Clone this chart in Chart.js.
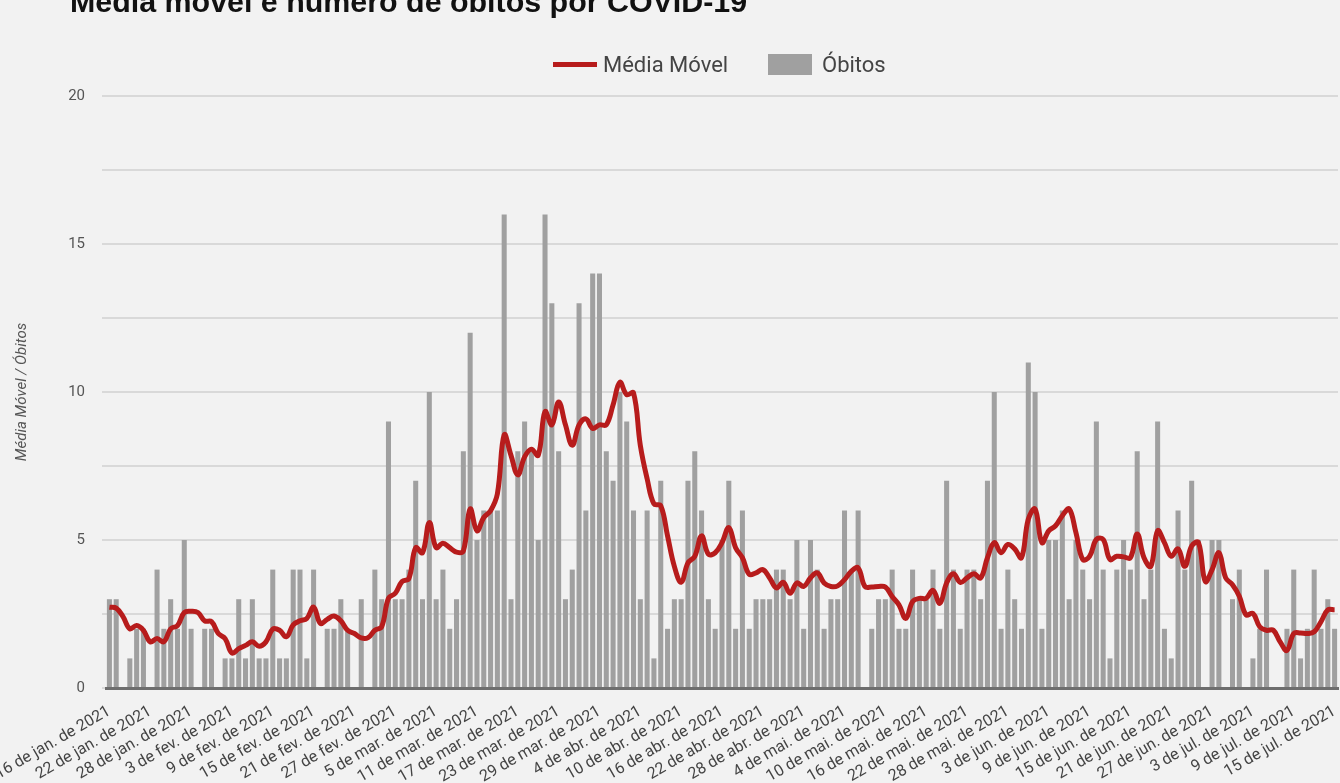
<!DOCTYPE html>
<html lang="pt-BR">
<head>
<meta charset="utf-8">
<title>Média móvel e número de óbitos por COVID-19</title>
<script src="https://cdn.jsdelivr.net/npm/chart.js@4.4.1/dist/chart.umd.min.js"></script>
<style>
  html, body { margin: 0; padding: 0; background: #f2f2f2; overflow: hidden; }
  #wrap { position: relative; width: 1340px; height: 783px; }
  #grafico { position: absolute; left: 0; top: 0; }
  #titulo {
    position: absolute; left: 70px; top: -16px; line-height: 1;
    font: bold 30.4px "Liberation Sans", Arial, sans-serif; color: #111; white-space: nowrap;
  }
  .leg-txt { position: absolute; top: 54px; font: 22px Roboto, sans-serif; color: #444; line-height: 22px; white-space: nowrap; }
  #leg-linha { position: absolute; left: 553px; top: 62px; width: 44px; height: 5px; background: #b71c1c; }
  #leg-barra { position: absolute; left: 768px; top: 54px; width: 44px; height: 21px; background: #a0a0a0; }
</style>
</head>
<body>
<div id="wrap">
  <canvas id="grafico" width="1340" height="783"></canvas>
  <div id="titulo">Média móvel e número de óbitos por COVID-19</div>
  <div id="leg-linha"></div>
  <div class="leg-txt" style="left:603px">Média Móvel</div>
  <div id="leg-barra"></div>
  <div class="leg-txt" style="left:822px">Óbitos</div>
</div>
<script>
// dias de 16/01/2021 a 15/07/2021
const meses = ['jan.', 'fev.', 'mar.', 'abr.', 'mai.', 'jun.', 'jul.'];
const diasNoMes = [31, 28, 31, 30, 31, 30, 31];
const diaInicial = 16;

// óbitos diários
const obitos = [
  3, 3, 0, 1, 2, 2, 0, 4, 2, 3, 2, 5, 2, 0, 2, 2, 0, 1, 1, 3,
  1, 3, 1, 1, 4, 1, 1, 4, 4, 1, 4, 0, 2, 2, 3, 2, 0, 3, 0, 4,
  3, 9, 3, 3, 4, 7, 3, 10, 3, 4, 2, 3, 8, 12, 5, 6, 6, 6, 16, 3,
  8, 9, 8, 5, 16, 13, 8, 3, 4, 13, 6, 14, 14, 8, 7, 10, 9, 6, 3, 6,
  1, 7, 2, 3, 3, 7, 8, 6, 3, 2, 5, 7, 2, 6, 2, 3, 3, 3, 4, 4,
  3, 5, 2, 5, 4, 2, 3, 3, 6, 4, 6, 0, 2, 3, 3, 4, 2, 2, 4, 3,
  3, 4, 2, 7, 4, 2, 4, 4, 3, 7, 10, 2, 4, 3, 2, 11, 10, 2, 5, 5,
  6, 3, 5, 4, 3, 9, 4, 1, 4, 5, 4, 8, 3, 4, 9, 2, 1, 6, 4, 7,
  5, 0, 5, 5, 0, 3, 4, 0, 1, 2, 4, 0, 0, 2, 4, 1, 2, 4, 2, 3,
  2
];

// média móvel
const mediaMovel = [
  2.73, 2.70, 2.41, 2.00, 2.11, 1.95, 1.56, 1.67, 1.56, 2.00,
  2.11, 2.55, 2.59, 2.55, 2.27, 2.24, 1.84, 1.67, 1.18, 1.33,
  1.44, 1.56, 1.41, 1.56, 1.99, 1.95, 1.73, 2.13, 2.27, 2.35,
  2.73, 2.18, 2.32, 2.43, 2.27, 1.95, 1.84, 1.69, 1.70, 1.95,
  2.07, 3.03, 3.20, 3.60, 3.70, 4.74, 4.57, 5.59, 4.74, 4.89,
  4.74, 4.59, 4.63, 6.05, 5.31, 5.76, 5.99, 6.56, 8.55, 7.86,
  7.20, 7.81, 8.07, 7.86, 9.34, 8.89, 9.66, 8.89, 8.20, 8.89,
  9.09, 8.77, 8.89, 8.89, 9.57, 10.33, 9.91, 9.97, 8.20, 7.07,
  6.22, 6.16, 5.14, 4.11, 3.57, 4.23, 4.45, 5.14, 4.52, 4.57,
  4.91, 5.42, 4.74, 4.40, 3.84, 3.89, 4.00, 3.72, 3.38, 3.57,
  3.20, 3.55, 3.43, 3.72, 3.89, 3.55, 3.43, 3.45, 3.66, 3.94,
  4.06, 3.43, 3.41, 3.43, 3.41, 3.09, 2.81, 2.35, 2.92, 3.03,
  3.03, 3.30, 2.86, 3.55, 3.86, 3.57, 3.72, 3.86, 3.72, 4.40,
  4.91, 4.57, 4.85, 4.70, 4.40, 5.70, 6.05, 4.91, 5.31, 5.48,
  5.82, 6.05, 5.25, 4.34, 4.45, 5.02, 5.02, 4.34, 4.45, 4.43,
  4.40, 5.20, 4.40, 4.11, 5.31, 4.91, 4.45, 4.70, 4.11, 4.80,
  4.91, 3.60, 4.00, 4.57, 3.72, 3.49, 3.10, 2.47, 2.52, 2.07,
  1.95, 1.95, 1.56, 1.27, 1.84, 1.86, 1.84, 1.90, 2.24, 2.64,
  2.64
];

const yTicks = [0, 5, 10, 15, 20];

// rótulos diários "16 de jan. de 2021"
const rotulos = [];
let mes = 0, dia = diaInicial;
for (let i = 0; i < obitos.length; i++) {
  rotulos.push(dia + ' de ' + meses[mes] + ' de 2021');
  dia++;
  if (dia > diasNoMes[mes]) { dia = 1; mes++; }
}

const ctx = document.getElementById('grafico');
new Chart(ctx, {
  data: {
    labels: rotulos,
    datasets: [
      {
        type: 'line',
        label: 'Média Móvel',
        data: mediaMovel,
        borderColor: '#b71c1c',
        borderWidth: 5,
        pointRadius: 0,
        tension: 0.4,
        order: 0,
      },
      {
        type: 'bar',
        label: 'Óbitos',
        data: obitos,
        backgroundColor: '#a0a0a0',
        categoryPercentage: 1,
        barPercentage: 0.74,
        order: 1,
      },
    ],
  },
  options: {
    responsive: false,
    animation: false,
    layout: { padding: { top: 96, right: 2, left: 0, bottom: 0 } },
    plugins: {
      legend: { display: false },
      tooltip: { enabled: false },
    },
    scales: {
      x: {
        grid: { display: false },
        border: { display: true, color: '#6e6e6e', width: 3, z: 1 },
        ticks: {
          autoSkip: false,
          minRotation: 30,
          maxRotation: 30,
          padding: 6,
          color: '#444',
          font: { family: 'Roboto', size: 16 },
          callback(v, i) { return i % 6 === 0 ? this.getLabelForValue(v) : ''; },
        },
        afterFit(s) { s.height = 95; s.paddingLeft = 0; s.paddingRight = 0; },
      },
      y: {
        min: 0,
        max: 20,
        ticks: {
          stepSize: 2.5,
          padding: 17,
          color: '#555',
          font: { family: 'Roboto', size: 15 },
          callback: v => yTicks.includes(v) ? v : '',
        },
        grid: { color: '#d9d9d9', lineWidth: 2, drawTicks: true, tickLength: 4 },
        border: { display: false },
        title: {
          display: true,
          text: 'Média Móvel / Óbitos',
          color: '#555',
          font: { family: 'Roboto', size: 15, style: 'italic' },
          padding: { top: 13, bottom: 0 },
        },
        afterFit(s) { s.width = 106; s.paddingTop = 0; s.paddingBottom = 0; },
      },
    },
  },
});
</script>
</body>
</html>
